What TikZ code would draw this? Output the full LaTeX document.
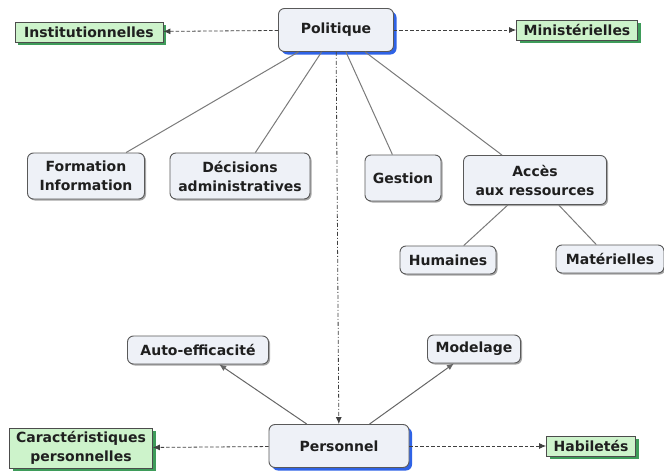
\documentclass[tikz,border=0pt]{standalone}
\usepackage{fontspec}
\setmainfont{DejaVu Sans}
\usetikzlibrary{arrows.meta,shadows}
\definecolor{conceptfill}{HTML}{EEF1F7}
\definecolor{linkgray}{HTML}{7A7A7A}
\definecolor{greenfill}{HTML}{CDF3CB}
\definecolor{greenshadow}{HTML}{3E9C5A}
\definecolor{blueshadow}{HTML}{2F63E6}
\begin{document}
\begin{tikzpicture}[x=1pt, y=-1pt,
    every node/.style={font=\fontsize{14}{19}\selectfont\bfseries, text=black!88},
    box/.style={draw=black!65, fill=conceptfill, rounded corners=6pt, align=center, inner sep=0pt, line width=0.9pt},
    concept/.style={box, drop shadow={shadow xshift=1.5pt, shadow yshift=-1.5pt, fill=black!35, opacity=1}},
    main/.style={box, drop shadow={shadow xshift=3pt, shadow yshift=-3pt, fill=blueshadow, opacity=1}},
    detail/.style={draw=black!70, fill=greenfill, align=center, inner sep=0pt, line width=0.8pt, drop shadow={shadow xshift=3pt, shadow yshift=-3pt, fill=greenshadow, opacity=1}},
    link/.style={draw=linkgray, line width=1pt},
    dotlink/.style={draw=black!75, line width=0.8pt, dash pattern=on 3.5pt off 2pt, -{Latex[length=7pt,width=6pt]}},
    arrowlink/.style={link, draw=black!60, -{Latex[length=7pt,width=6pt]}}]
    \useasboundingbox (0,0) rectangle (664,471);
    % concepts
    \node[main, minimum width=115pt, minimum height=43pt] (politique) at (336,30) {Politique};
    \node[detail, minimum width=148pt, minimum height=20pt] (institution) at (89,32) {Institutionnelles};
    \node[detail, minimum width=121pt, minimum height=20pt] (ministere) at (577,30) {Ministérielles};
    \node[concept, minimum width=117pt, minimum height=46pt] (formation) at (86,176) {Formation\\Information};
    \node[concept, minimum width=140pt, minimum height=46pt] (decisions) at (240,176) {Décisions\\administratives};
    \node[concept, minimum width=76pt, minimum height=46pt] (gestion) at (403,178) {Gestion};
    \node[concept, minimum width=143pt, minimum height=49pt] (acces) at (535,180) {Accès\\aux ressources};
    \node[concept, minimum width=96pt, minimum height=28pt] (humaines) at (448,260) {Humaines};
    \node[concept, minimum width=108pt, minimum height=28pt] (materielles) at (610,259) {Matérielles};
    \node[concept, minimum width=141pt, minimum height=28pt] (auto) at (198,350) {Auto-efficacité};
    \node[concept, minimum width=93pt, minimum height=28pt] (modelage) at (474,349) {Modelage};
    \node[main, minimum width=140pt, minimum height=43pt] (personnel) at (339,446) {Personnel};
    \node[detail, minimum width=143pt, minimum height=40pt] (caracteristiques) at (81,448) {Caractéristiques\\personnelles};
    \node[detail, minimum width=89pt, minimum height=20pt] (habiletes) at (591,446) {Habiletés};
    % links
    \draw[link] (politique) -- (formation);
    \draw[link] (politique) -- (decisions);
    \draw[link] (politique) -- (gestion);
    \draw[link] (politique) -- (acces);
    \draw[link] (acces) -- (humaines);
    \draw[link] (acces) -- (materielles);
    \draw[dotlink] (politique) -- (institution);
    \draw[dotlink] (politique) -- (ministere);
    \draw[dotlink] (personnel) -- (caracteristiques);
    \draw[dotlink] (personnel) -- (habiletes);
    \draw[dotlink, dash pattern=on 4pt off 2pt on 1pt off 2pt] (politique) -- (personnel);
    \draw[arrowlink] (personnel) -- (auto);
    \draw[arrowlink] (personnel) -- (modelage);
\end{tikzpicture}
\end{document}
